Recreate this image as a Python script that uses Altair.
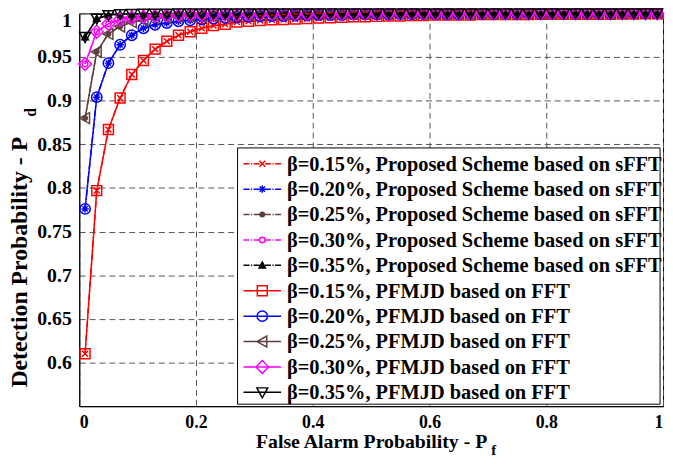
import altair as alt
import pandas as pd

# ---------------- data ----------------
pf = [0.01, 0.03, 0.05, 0.07, 0.09, 0.11, 0.13, 0.15, 0.17, 0.19,
      0.21, 0.23, 0.25, 0.27, 0.29, 0.31, 0.33, 0.35, 0.37, 0.39,
      0.41, 0.43, 0.45, 0.47, 0.49, 0.51, 0.53, 0.55, 0.57, 0.59,
      0.61, 0.63, 0.65, 0.67, 0.69, 0.71, 0.73, 0.75, 0.77, 0.79,
      0.81, 0.83, 0.85, 0.87, 0.89, 0.91, 0.93, 0.95, 0.97, 0.99]

pd_b015 = [0.610, 0.797, 0.867, 0.903, 0.930, 0.946, 0.959, 0.968, 0.975, 0.979,
           0.983, 0.986, 0.9875, 0.990, 0.991, 0.9917, 0.9925, 0.993, 0.9935, 0.994,
           0.9945, 0.995, 0.9955, 0.996, 0.996, 0.9965, 0.997, 0.997, 0.9975, 0.9975,
           0.998, 0.998, 0.998, 0.998, 0.9985, 0.9985, 0.9985, 0.9985, 0.9985, 0.999,
           0.999, 0.999, 0.999, 0.999, 0.999, 0.999, 0.9993, 0.9993, 0.9995, 0.9995]
pd_b020 = [0.776, 0.904, 0.943, 0.964, 0.975, 0.983, 0.987, 0.989, 0.991, 0.992,
           0.993, 0.994, 0.995, 0.9955, 0.996, 0.9965, 0.997, 0.997, 0.9975, 0.9975,
           0.998, 0.998, 0.998, 0.9985, 0.9985, 0.9985, 0.9985, 0.999, 0.999, 0.999,
           0.999, 0.999, 0.999, 0.9992, 0.9992, 0.9992, 0.9993, 0.9993, 0.9994, 0.9994,
           0.9995, 0.9995, 0.9995, 0.9996, 0.9996, 0.9996, 0.9997, 0.9997, 0.9998, 0.9998]
pd_b025 = [0.880, 0.956, 0.9765, 0.985, 0.990, 0.992, 0.994, 0.995, 0.996, 0.9965,
           0.997, 0.9975, 0.998, 0.998, 0.9985, 0.9985, 0.999, 0.999, 0.999, 0.999,
           0.9992, 0.9992, 0.9993, 0.9993, 0.9994, 0.9994, 0.9995, 0.9995, 0.9995, 0.9996,
           0.9996, 0.9996, 0.9997, 0.9997, 0.9997, 0.9997, 0.9998, 0.9998, 0.9998, 0.9998,
           0.9998, 0.9999, 0.9999, 0.9999, 0.9999, 0.9999, 0.9999, 1.0, 1.0, 1.0]
pd_b030 = [0.942, 0.979, 0.988, 0.993, 0.995, 0.996, 0.997, 0.9975, 0.998, 0.9985,
           0.9988, 0.999, 0.999, 0.9992, 0.9993, 0.9994, 0.9995, 0.9995, 0.9996, 0.9996,
           0.9997, 0.9997, 0.9997, 0.9998, 0.9998, 0.9998, 0.9998, 0.9999, 0.9999, 0.9999,
           0.9999, 0.9999, 0.9999, 0.9999, 1.0, 1.0, 1.0, 1.0, 1.0, 1.0,
           1.0, 1.0, 1.0, 1.0, 1.0, 1.0, 1.0, 1.0, 1.0, 1.0]
pd_b035 = [0.973, 0.994, 0.998, 0.999, 0.9993, 0.9995, 0.9996, 0.9997, 0.9998, 0.9998,
           0.9999, 0.9999, 0.9999, 0.9999, 1.0, 1.0, 1.0, 1.0, 1.0, 1.0,
           1.0, 1.0, 1.0, 1.0, 1.0, 1.0, 1.0, 1.0, 1.0, 1.0,
           1.0, 1.0, 1.0, 1.0, 1.0, 1.0, 1.0, 1.0, 1.0, 1.0,
           1.0, 1.0, 1.0, 1.0, 1.0, 1.0, 1.0, 1.0, 1.0, 1.0]

betas = ["0.15", "0.20", "0.25", "0.30", "0.35"]
curves = [pd_b015, pd_b020, pd_b025, pd_b030, pd_b035]
names = ([f"β={b}%, Proposed Scheme based on sFFT" for b in betas] +
         [f"β={b}%, PFMJD based on FFT" for b in betas])

x_ticks = [0, 0.2, 0.4, 0.6, 0.8, 1]
y_ticks = [0.6, 0.65, 0.7, 0.75, 0.8, 0.85, 0.9, 0.95, 1]

# ---------------- styles ----------------
base_colors = ["#ff0000", "#0000ff", "#5c403c", "#ff00ff", "#000000"]
colors = base_colors * 2
prop_markers = ["x", "st", "dot", "oc", "tu"]
fft_markers = ["sq", "ci", "tl", "di", "td"]
markers = prop_markers + fft_markers
fills = ["transparent", "transparent", "#5c403c", "transparent", "#000000"] + ["transparent"] * 5
dashes = [[6, 3, 1.5, 3]] * 5 + [[1, 0]] * 5


def marker_path(kind):
    if kind == "sq":
        return "M-1,-1L1,-1L1,1L-1,1Z"
    if kind == "ci":
        r = 1.05
        return f"M{r},0A{r},{r} 0 1,1 {-r},0A{r},{r} 0 1,1 {r},0Z"
    if kind == "tl":
        return "M-1.1,0L0.9,-1.1L0.9,1.1Z"
    if kind == "di":
        return "M0,-1.3L1.3,0L0,1.3L-1.3,0Z"
    if kind == "td":
        return "M-1.1,-0.9L1.1,-0.9L0,1.1Z"
    if kind == "x":
        return "M-0.6,-0.6L0.6,0.6M-0.6,0.6L0.6,-0.6"
    if kind == "st":
        return ("M-0.75,0L0.75,0M0,-0.75L0,0.75"
                "M-0.53,-0.53L0.53,0.53M-0.53,0.53L0.53,-0.53")
    if kind == "dot":
        r = 0.45
        return f"M{r},0A{r},{r} 0 1,1 {-r},0A{r},{r} 0 1,1 {r},0Z"
    if kind == "oc":
        r = 0.55
        return f"M{r},0A{r},{r} 0 1,1 {-r},0A{r},{r} 0 1,1 {r},0Z"
    if kind == "tu":
        return "M-0.65,0.55L0.65,0.55L0,-0.65Z"
    return ""


# legend symbol = line segment (dash-dot or solid) + marker, 1 unit = 5 px
dashdot_line = ("M-3.8,0L-2.6,0M-2.3,0L-2.04,0M-1.74,0L-0.54,0"
                "M0.54,0L1.74,0M2.04,0L2.3,0M2.6,0L3.8,0")
solid_line = "M-3.8,0L3.8,0"

rows = []
for i, name in enumerate(names):
    vals = curves[i % 5]
    for xv, yv in zip(pf, vals):
        rows.append({"pf": xv, "pdet": yv, "series": name})
df = pd.DataFrame(rows)

leg_df = pd.DataFrame({
    "name": names,
    "lpath": [(dashdot_line if i < 5 else solid_line) + marker_path(markers[i])
              for i in range(10)],
    "color": colors,
    "fill": fills,
})

FONT = "Liberation Serif"

x_enc = alt.X("pf:Q", scale=alt.Scale(domain=[0, 1], nice=False, zero=False),
              axis=alt.Axis(values=x_ticks, format="~g", title="False Alarm Probability - P",
                            titleFontSize=20, titleBaseline="alphabetic", titleY=42,
                            labelPadding=8, labelFontSize=18))
y_enc = alt.Y("pdet:Q", scale=alt.Scale(domain=[0.55, 1], nice=False, zero=False),
              axis=alt.Axis(values=y_ticks, format="~g", title="Detection Probability - P",
                            titleFontSize=24, titleBaseline="alphabetic", titleX=-53,
                            titleY=251, labelPadding=8, labelFontSize=20, labelFlush=True,
                            labelFlushOffset=3))

lines = alt.Chart(df).mark_line(strokeWidth=1.5).encode(
    x=x_enc, y=y_enc,
    color=alt.Color("series:N", scale=alt.Scale(domain=names, range=colors), legend=None),
    strokeDash=alt.StrokeDash("series:N", scale=alt.Scale(domain=names, range=dashes), legend=None),
    order="pf:Q",
)

point_layers = []
for i, name in enumerate(names):
    point_layers.append(
        alt.Chart(df).transform_filter(alt.datum.series == name).mark_point(
            shape=marker_path(markers[i]), size=100, strokeWidth=1.5, opacity=1,
            filled=False, stroke=colors[i], fill=fills[i]
        ).encode(x="pf:Q", y="pdet:Q")
    )

sub_d = alt.Chart(pd.DataFrame({"t": ["d"]})).mark_text(
    text="d", font=FONT, fontSize=16, fontWeight="bold", angle=270, color="black").encode(
    x=alt.value(-49), y=alt.value(100))
sub_f = alt.Chart(pd.DataFrame({"t": ["f"]})).mark_text(
    text="f", font=FONT, fontSize=15, fontWeight="bold", color="black").encode(
    x=alt.value(419), y=alt.value(441))

main = alt.layer(lines, *point_layers, sub_d, sub_f)

# ---------------- legend (drawn as marks) ----------------
leg_y = alt.Y("name:N", scale=alt.Scale(domain=names, range=[152, 383], padding=0), axis=None)

legend_box = alt.Chart(pd.DataFrame({"a": [0]})).mark_rect(
    fill="white", stroke="black", strokeWidth=1).encode(
    x=alt.value(160), x2=alt.value(587), y=alt.value(136), y2=alt.value(395))
legend_sym = alt.Chart(leg_df).mark_point(
    size=100, strokeWidth=1.5, opacity=1, filled=False).encode(
    x=alt.value(185), y=leg_y,
    shape=alt.Shape("lpath:N", scale=None),
    stroke=alt.Stroke("color:N", scale=None),
    fill=alt.Fill("fill:N", scale=None),
)
legend_txt = alt.Chart(leg_df).mark_text(
    align="left", baseline="middle", font=FONT, fontSize=20.6, fontWeight="bold",
    color="black", dy=1).encode(
    x=alt.value(210), y=leg_y, text="name:N")

legend = alt.layer(legend_box, legend_sym, legend_txt)

chart = alt.layer(main, legend).resolve_scale(y="independent").properties(
    width=590, height=397,
    padding={"left": 72, "top": 3, "right": 2, "bottom": 55},
    autosize=alt.AutoSizeParams(type="none"),
).configure_view(
    stroke="black", strokeWidth=1
).configure_axis(
    labelFont=FONT, labelFontSize=19, labelFontWeight="bold", labelColor="black",
    titleFont=FONT, titleFontWeight="bold", titleColor="black",
    domainColor="black", domainWidth=1, ticks=False,
    grid=True, gridColor="#555555", gridDash=[6, 4], gridWidth=1, gridOpacity=1,
)

chart.save("out.html", embed_options={"renderer": "svg", "actions": False})
